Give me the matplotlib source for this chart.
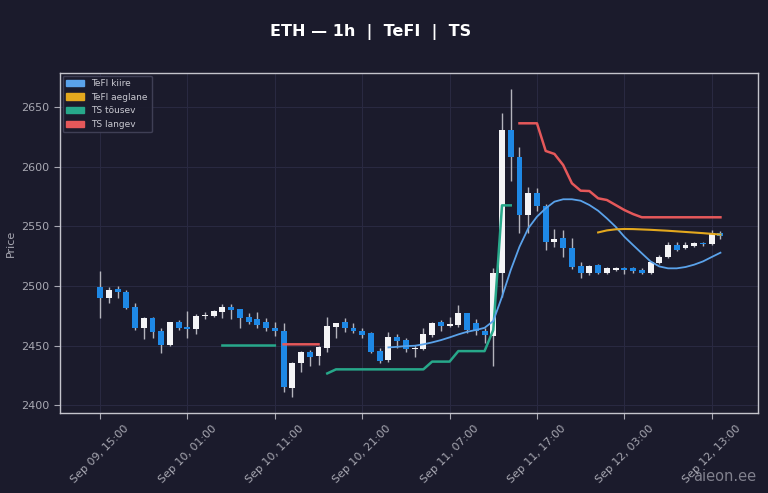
import numpy as np
import pandas as pd
import matplotlib
matplotlib.use("Agg")
import matplotlib.pyplot as plt
import matplotlib.dates as mdates
from matplotlib.patches import Patch

# hourly ETH candles, Sep 09 15:00 -> Sep 12 14:00
times = pd.date_range("2024-09-09 15:00", periods=72, freq="h")

opens = [2499.3, 2490.0, 2497.0, 2494.6, 2481.9, 2464.8, 2472.7, 2462.0, 2450.3, 2469.4,
         2465.8, 2463.8, 2474.4, 2474.9, 2478.0, 2482.5, 2480.5, 2474.0, 2471.9, 2469.4,
         2464.8, 2462.3, 2414.6, 2435.5, 2444.7, 2441.1, 2448.0, 2465.8, 2470.0, 2464.5,
         2462.5, 2460.2, 2445.6, 2437.8, 2457.3, 2454.5, 2446.7, 2446.7, 2458.7, 2469.4,
         2466.3, 2467.1, 2477.0, 2469.0, 2462.3, 2457.9, 2510.5, 2630.7, 2607.8, 2559.4,
         2577.6, 2566.9, 2537.0, 2539.9, 2531.5, 2516.6, 2511.0, 2517.5, 2511.0, 2513.3,
         2514.7, 2514.7, 2513.3, 2511.0, 2519.4, 2524.4, 2534.2, 2531.5, 2533.4, 2536.2,
         2535.1, 2544.6]
highs = [2512.4, 2499.3, 2500.0, 2496.5, 2485.3, 2473.5, 2474.0, 2464.3, 2469.6, 2471.3,
         2479.0, 2476.0, 2478.0, 2480.0, 2484.5, 2484.7, 2481.0, 2477.4, 2478.0, 2472.7,
         2469.9, 2468.5, 2436.0, 2445.0, 2446.0, 2450.0, 2474.0, 2469.0, 2473.0, 2469.0,
         2465.0, 2461.5, 2447.6, 2461.5, 2460.0, 2456.0, 2450.3, 2464.3, 2470.0, 2471.3,
         2474.0, 2483.9, 2477.5, 2472.0, 2464.3, 2514.7, 2645.2, 2664.8, 2616.2, 2583.1,
         2581.8, 2568.6, 2547.4, 2546.8, 2539.9, 2520.2, 2517.5, 2518.5, 2516.0, 2515.5,
         2515.5, 2515.5, 2514.7, 2521.0, 2525.5, 2537.0, 2537.0, 2536.5, 2537.0, 2536.5,
         2547.0, 2546.2]
lows = [2473.0, 2485.3, 2489.5, 2481.0, 2463.0, 2455.3, 2456.5, 2443.4, 2450.0, 2463.0,
        2456.0, 2460.0, 2472.0, 2474.0, 2473.0, 2471.9, 2464.3, 2468.0, 2465.0, 2462.0,
        2457.8, 2411.0, 2407.0, 2428.0, 2433.0, 2433.7, 2444.7, 2456.0, 2461.0, 2460.5,
        2456.5, 2443.9, 2435.0, 2436.5, 2447.6, 2444.7, 2440.5, 2446.5, 2457.5, 2462.5,
        2465.8, 2465.8, 2460.2, 2458.5, 2451.7, 2432.7, 2490.9, 2588.2, 2544.6, 2544.6,
        2563.0, 2530.0, 2532.8, 2524.4, 2513.8, 2506.3, 2509.5, 2510.0, 2510.0, 2512.5,
        2509.9, 2510.5, 2510.0, 2510.0, 2518.5, 2523.5, 2529.5, 2530.5, 2532.5, 2533.4,
        2534.5, 2539.5]
closes = [2490.0, 2496.5, 2494.6, 2481.6, 2464.8, 2472.7, 2461.5, 2450.3, 2469.4, 2464.3,
          2463.8, 2475.0, 2475.5, 2479.0, 2482.5, 2479.7, 2472.7, 2469.9, 2467.1, 2464.3,
          2462.0, 2414.8, 2435.5, 2444.2, 2440.5, 2449.0, 2466.3, 2468.5, 2465.0, 2462.5,
          2458.7, 2444.7, 2437.2, 2457.3, 2454.0, 2446.7, 2448.0, 2459.6, 2469.0, 2466.6,
          2467.7, 2477.0, 2463.0, 2462.3, 2458.7, 2511.0, 2630.7, 2607.8, 2559.4, 2577.6,
          2566.9, 2537.0, 2539.0, 2531.5, 2515.5, 2511.0, 2516.6, 2511.0, 2514.7, 2514.7,
          2513.3, 2512.7, 2511.0, 2520.2, 2524.4, 2534.2, 2530.0, 2534.2, 2536.2, 2535.1,
          2544.6, 2541.8]

N = None
tefi_fast = [N] * 33 + [2448.4, 2448.9, 2449.5, 2449.8, 2451.0, 2452.6, 2454.5, 2456.8, 2459.3,
                        2461.5, 2463.0, 2464.8, 2470.5, 2490.9, 2513.3, 2532.8, 2548.2, 2558.0,
                        2565.0, 2570.6, 2572.6, 2572.6, 2571.4, 2567.8, 2563.0, 2556.6, 2549.6,
                        2541.2, 2534.2, 2527.3, 2520.5, 2516.3, 2514.7, 2514.7, 2515.8, 2517.8,
                        2520.5, 2524.2, 2527.8]
tefi_slow = [N] * 57 + [2544.8, 2546.5, 2547.4, 2547.7, 2547.6, 2547.3, 2547.0, 2546.6, 2546.2,
                        2545.7, 2545.2, 2544.7, 2544.2, 2543.6, 2543.0]
ts_up = ([N] * 14 + [2450.0] * 7 + [N] * 5 + [2426.6] + [2430.0] * 11 + [2436.5] * 3
         + [2445.3] * 4 + [2463.0, 2567.5, 2567.5] + [N] * 24)
ts_down = ([N] * 21 + [2451.0] * 5 + [N] * 22
           + [2636.3, 2636.3, 2636.3, 2613.1, 2610.6, 2601.3, 2586.0, 2579.8, 2579.5, 2573.4,
              2572.0, 2567.8, 2563.6, 2560.2] + [2557.5] * 10)

BG = "#1b1b2c"
UP = "#f4f4f6"
DOWN = "#1e88e5"
WICK = "#b4b4bc"
C_FAST = "#5aa2ea"
C_SLOW = "#e3a81e"
C_UP = "#27a88a"
C_DOWN = "#e5585a"

o = np.array(opens); h = np.array(highs); l = np.array(lows); c = np.array(closes)
rising = c >= o

fig = plt.figure(figsize=(7.68, 4.93), dpi=100, facecolor=BG)
ax = fig.add_axes([0.078, 0.162, 0.909, 0.69], facecolor=BG)

hour = 1 / 24
ax.vlines(times, l, h, color=WICK, lw=1.0, zorder=2)
body = np.maximum(np.abs(c - o), 0.8)
ax.bar(times, body, bottom=np.minimum(o, c), width=0.68 * hour,
       color=np.where(rising, UP, DOWN), zorder=3)

ax.plot(times, np.array(ts_up, dtype=float), color=C_UP, lw=1.8, zorder=4)
ax.plot(times, np.array(ts_down, dtype=float), color=C_DOWN, lw=1.8, zorder=4)
ax.plot(times, np.array(tefi_fast, dtype=float), color=C_FAST, lw=1.3, zorder=5)
ax.plot(times, np.array(tefi_slow, dtype=float), color=C_SLOW, lw=1.5, zorder=5)

ax.set_xlim(times[0] - pd.Timedelta(hours=4.6), times[0] + pd.Timedelta(hours=75.3))
ax.set_ylim(2393.3, 2678.5)
ax.set_yticks([2400, 2450, 2500, 2550, 2600, 2650])
ax.set_xticks(times[::10])
ax.xaxis.set_major_formatter(mdates.DateFormatter("%b %d, %H:%M"))
plt.setp(ax.get_xticklabels(), rotation=45)

ax.grid(True, color="#2a2a42", lw=0.7)
ax.set_axisbelow(True)
for s in ax.spines.values():
    s.set_color("#c4c4cc")
    s.set_linewidth(1.0)
ax.tick_params(colors="#a8a8b2", labelsize=8, length=4)
ax.set_ylabel("Price", color="#a8a8b2", fontsize=8)

handles = [Patch(color=C_FAST, label="TeFI kiire"),
           Patch(color=C_SLOW, label="TeFI aeglane"),
           Patch(color=C_UP, label="TS tõusev"),
           Patch(color=C_DOWN, label="TS langev")]
leg = ax.legend(handles=handles, loc="upper left", fontsize=6.5, facecolor=BG,
                edgecolor="#44445a", framealpha=0.9, borderaxespad=0.3)
for t in leg.get_texts():
    t.set_color("#c8c8d0")

fig.suptitle("ETH — 1h  |  TeFI  |  TS", color="white", fontsize=11.5,
             fontweight="bold", x=0.483, y=0.952)
fig.text(0.985, 0.025, "aieon.ee", color="#9a9aa6", fontsize=10.5, ha="right", alpha=0.8)

fig.savefig("out.png", dpi=100, facecolor=BG)
